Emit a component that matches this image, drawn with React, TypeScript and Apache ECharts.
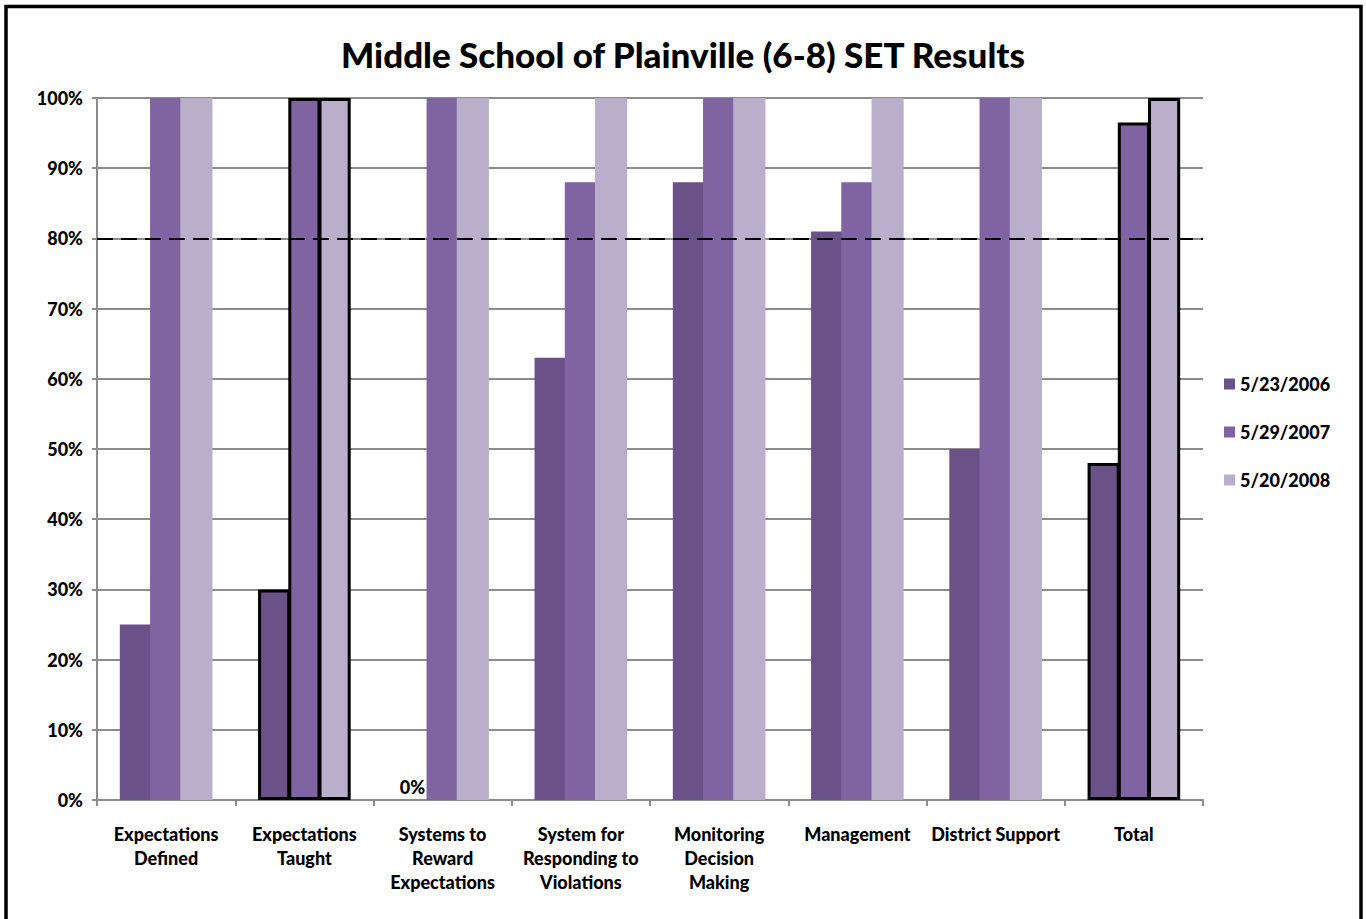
import React, { useEffect, useRef } from "react";
import * as echarts from "echarts";

const titleText = "Middle School of Plainville (6-8) SET Results";
const categories = [
  "Expectations\nDefined",
  "Expectations\nTaught",
  "Systems to\nReward\nExpectations",
  "System for\nResponding to\nViolations",
  "Monitoring\nDecision\nMaking",
  "Management",
  "District Support",
  "Total",
];
const seriesNames = ["5/23/2006", "5/29/2007", "5/20/2008"];
const s2006 = [25, 30, 0, 63, 88, 81, 50, 48];
const s2007 = [100, 100, 100, 88, 100, 88, 100, 96.5];
const s2008 = [100, 100, 100, 100, 100, 100, 100, 100];
const borderedIdx = [1, 7];
const zeroLabelIdx = [2];
const targetLine = 80;
const yTicks = { min: 0, max: 100, interval: 10 };

const colors = ["#6a5289", "#8064a2", "#b9afca"];
const FONT = "Lato";
const W = 900;

function buildData(values: number[], withZeroLabel: boolean) {
  return values.map((v, i) => {
    const item: any = { value: v };
    if (borderedIdx.includes(i)) {
      item.itemStyle = { borderColor: "#000", borderWidth: 3 };
    }
    if (withZeroLabel && zeroLabelIdx.includes(i)) {
      item.label = {
        show: true,
        position: "top",
        formatter: "{c}%",
        fontFamily: FONT,
        fontWeight: W,
        fontSize: 18,
        color: "#000",
        distance: 4,
      };
    }
    return item;
  });
}

export default function App() {
  const ref = useRef<HTMLDivElement>(null);
  useEffect(() => {
    if (!ref.current) return;
    const chart = echarts.init(ref.current, undefined, { renderer: "svg" });
    const all = [s2006, s2007, s2008];
    chart.setOption({
      animation: false,
      backgroundColor: "#fff",
      title: {
        text: titleText,
        left: "center",
        top: 31,
        textStyle: { fontFamily: FONT, fontWeight: W, fontSize: 35, color: "#000" },
      },
      graphic: [
        {
          type: "rect",
          shape: { x: 6, y: 6.5, width: 1355, height: 1000 },
          style: { fill: "none", stroke: "#000", lineWidth: 3.5 },
          silent: true,
        },
      ],
      legend: {
        orient: "vertical",
        left: 1219,
        top: 370,
        itemWidth: 11,
        itemHeight: 11,
        itemGap: 30,
        icon: "rect",
        textStyle: { fontFamily: FONT, fontWeight: W, fontSize: 18, color: "#000" },
        data: seriesNames,
      },
      grid: { left: 97, top: 98, width: 1106, height: 702, containLabel: false },
      xAxis: {
        type: "category",
        data: categories,
        axisLine: { show: true, lineStyle: { color: "#8c8c8c", width: 2 } },
        axisTick: { show: true, length: 6, lineStyle: { color: "#8c8c8c", width: 2 } },
        axisLabel: {
          interval: 0,
          margin: 22,
          fontFamily: FONT,
          fontWeight: W,
          fontSize: 18,
          lineHeight: 24,
          color: "#000",
        },
      },
      yAxis: {
        type: "value",
        min: yTicks.min,
        max: yTicks.max,
        interval: yTicks.interval,
        axisLine: { show: true, lineStyle: { color: "#8c8c8c", width: 2 } },
        axisTick: { show: true, length: 5, lineStyle: { color: "#8c8c8c", width: 2 } },
        splitLine: { show: true, lineStyle: { color: "#8c8c8c", width: 2 } },
        axisLabel: {
          formatter: "{value}%",
          margin: 14,
          fontFamily: FONT,
          fontWeight: W,
          fontSize: 18,
          color: "#000",
        },
      },
      series: seriesNames.map((name, si) => ({
        name,
        type: "bar",
        data: buildData(all[si], si === 0),
        barGap: "-6%",
        barCategoryGap: "33%",
        itemStyle: { color: colors[si] },
        ...(si === 0
          ? {
              markLine: {
                silent: true,
                symbol: "none",
                label: { show: false },
                lineStyle: { color: "#000", width: 2, type: [16, 8] },
                data: [{ yAxis: targetLine }],
                z: 10,
              },
            }
          : {}),
      })),
    });
    return () => chart.dispose();
  }, []);
  return (
    <div
      ref={ref}
      style={{ position: "absolute", left: 0, top: 0, width: 1366, height: 919 }}
    />
  );
}
